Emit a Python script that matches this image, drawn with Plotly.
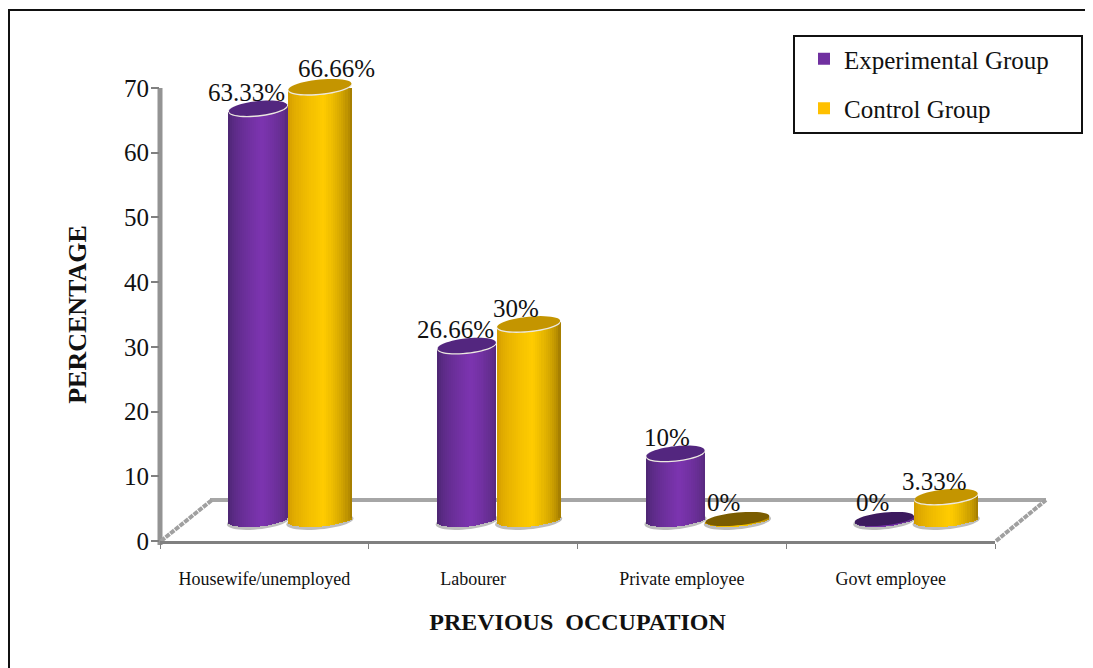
import math
import plotly.graph_objects as go

categories = ["Housewife/unemployed", "Labourer", "Private employee", "Govt employee"]
experimental = [63.33, 26.66, 10, 0]
control = [66.66, 30, 0, 3.33]
exp_labels = ["63.33%", "26.66%", "10%", "0%"]
ctrl_labels = ["66.66%", "30%", "0%", "3.33%"]
y_ticks = [0, 10, 20, 30, 40, 50, 60, 70]

FONT = "Liberation Serif"
OX, OY = 8, 8                               # the page's own margin
W, H = 1085, 660
PL, PR, PT, PB = 160, 995, 88, 541          # plot area in page pixels
UNIT = (PB - PT) / 70
CELL = (PR - PL) / 4
LIFT = 3.4                                  # floor depth raises the bars
CAP_PX = 7.5
TILT_PX = 3.0
CAP = CAP_PX / UNIT


def px(x):
    return (x - PL) / (PR - PL)


def py(y):
    return (PB - y) / (PB - PT)


def mix(a, b, t):
    return "rgb(%d,%d,%d)" % tuple(round(a[i] + (b[i] - a[i]) * t) for i in range(3))


def ellipse_path(i, off, w, level, dy_px=0.0, a_scale=1.0, b_scale=1.0):
    """Closed tilted ellipse in page pixels, placed from category slot and value level."""
    xc = PL + (i + 0.5 + off + w / 2) * CELL
    yc = PB - level * UNIT + dy_px
    a = w * CELL / 2 * a_scale
    pts = []
    for k in range(48):
        t = 2 * math.pi * k / 48
        u = math.cos(t)
        pts.append((xc + a * u, yc - TILT_PX * u - CAP_PX * b_scale * math.sin(t)))
    return "M " + " L ".join("%.5f %.5f" % (px(x), py(y)) for x, y in pts) + " Z"


series = [
    dict(name="Experimental Group", vals=experimental, labels=exp_labels, off=-0.172, w=0.283,
         color="#7030a0", edgeL=(70, 36, 106), edgeR=(82, 40, 118), mid=(124, 52, 176),
         cap="#53267f", flat="#3c1a5e", shifts=[(-12, -17), (-11, -17), (-9, -17), (-12, -16)]),
    dict(name="Control Group", vals=control, labels=ctrl_labels, off=0.113, w=0.306,
         color="#ffc000", edgeL=(205, 150, 0), edgeR=(150, 112, 0), mid=(255, 204, 0),
         cap="#c49500", flat="#7a5c00", shifts=[(17, -19), (-13, -16), (-14, -16), (-12, -16)]),
]

fig = go.Figure()
shapes = []
annotations = []

# frame (top and left only) and legend box
shapes.append(dict(type="path", xref="paper", yref="paper",
                   path="M %f %f L %f %f L %f %f" % (px(9), py(680), px(9), py(10), px(1100), py(10)),
                   line=dict(color="#111111", width=2), layer="below"))
shapes.append(dict(type="rect", xref="paper", yref="paper", x0=px(794), x1=px(1082), y0=py(133), y1=py(36),
                   line=dict(color="#111111", width=2), fillcolor="white", layer="below"))
# y axis wall edge
shapes.append(dict(type="line", xref="paper", yref="paper", x0=px(160), x1=px(160), y0=py(88), y1=py(545),
                   line=dict(color="#949494", width=5), layer="below"))
# floor
shapes.append(dict(type="line", xref="paper", yref="paper", x0=px(210), x1=px(1046), y0=py(500), y1=py(500),
                   line=dict(color="#a6a6a6", width=4), layer="below"))
for x0, x1 in ((161, 212), (996, 1046)):
    shapes.append(dict(type="line", xref="paper", yref="paper", x0=px(x0), x1=px(x1), y0=py(541), y1=py(500),
                       line=dict(color="#a0a0a0", width=4, dash="5px,1px"), layer="below"))

N = 30
PEAK = 0.56
for s in series:
    # the bar itself, read straight from the data (its shading is laid over it)
    fig.add_trace(go.Bar(x=categories, y=s["vals"], base=[LIFT] * 4, name=s["name"], legendgroup=s["name"],
                         width=[s["w"] * 0.5] * 4, offset=[s["off"] + s["w"] * 0.25] * 4, cliponaxis=False,
                         marker=dict(color=s["color"], line=dict(width=0))))
    # cylinder shading: slim overlapping strips following the tilted ellipses
    for k in range(N):
        left = k / N
        right = min(1.0, (k + 1.9) / N)
        p = (k + 0.5) / N
        u = 2 * p - 1
        slope_units = TILT_PX / UNIT * u
        drop = CAP * math.sqrt(max(0.0, 1 - u * u))
        if p < PEAK:
            col = mix(s["edgeL"], s["mid"], (p / PEAK) ** 0.55)
        else:
            col = mix(s["edgeR"], s["mid"], ((1 - p) / (1 - PEAK)) ** 0.55)
        fig.add_trace(go.Bar(x=categories, y=[v + drop for v in s["vals"]],
                             base=[LIFT + slope_units - drop] * 4, cliponaxis=False,
                             width=[s["w"] * (right - left)] * 4, offset=[s["off"] + s["w"] * left] * 4,
                             marker=dict(color=col, line=dict(width=0)), showlegend=False, hoverinfo="skip"))
    for i, v in enumerate(s["vals"]):
        c = LIFT + v
        shapes.append(dict(type="path", xref="paper", yref="paper", layer="below",
                           path=ellipse_path(i, s["off"], s["w"], LIFT, dy_px=2.5, a_scale=1.05, b_scale=1.05),
                           fillcolor="#bdbdbd", line=dict(width=0)))
        if v > 0:
            shapes.append(dict(type="path", xref="paper", yref="paper", layer="above",
                               path=ellipse_path(i, s["off"], s["w"], c),
                               fillcolor="#ece8e0", line=dict(width=0)))
            shapes.append(dict(type="path", xref="paper", yref="paper", layer="above",
                               path=ellipse_path(i, s["off"], s["w"], c, dy_px=-1.0, a_scale=0.985, b_scale=0.95),
                               fillcolor=s["cap"], line=dict(width=0)))
        else:
            shapes.append(dict(type="path", xref="paper", yref="paper", layer="above",
                               path=ellipse_path(i, s["off"], s["w"], c, b_scale=0.85),
                               fillcolor=s["flat"], line=dict(width=0)))
        dx, dy = s["shifts"][i]
        annotations.append(dict(x=(i + 0.5 + s["off"] + s["w"] / 2) / 4, y=c / 70, xref="paper", yref="paper",
                                xanchor="center", yanchor="middle",
                                text=s["labels"][i], showarrow=False, xshift=dx, yshift=-dy,
                                font=dict(family=FONT, size=25, color="#111111")))

fig.update_layout(
    width=W, height=H, autosize=False,
    margin=dict(l=PL - OX, r=W + OX - PR, t=PT - OY, b=H + OY - PB, pad=0),
    paper_bgcolor="white", plot_bgcolor="rgba(0,0,0,0)",
    barmode="overlay", bargap=0,
    font=dict(family=FONT, color="#111111"),
    shapes=shapes, annotations=annotations,
    legend=dict(x=px(804), y=py(36), xanchor="left", yanchor="top", bgcolor="rgba(0,0,0,0)",
                borderwidth=0, font=dict(family=FONT, size=25, color="#111111"), tracegroupgap=14,
                traceorder="grouped"),
    xaxis=dict(type="category", categoryorder="array", categoryarray=categories, range=[-0.5, 3.5],
               tickson="boundaries", ticks="outside", ticklen=5, tickwidth=1, tickcolor="#808080",
               showline=True, linecolor="#808080", linewidth=3, showgrid=False, zeroline=False,
               tickfont=dict(family=FONT, size=18, color="#111111"), ticklabelstandoff=19,
               title=dict(text="<b>PREVIOUS  OCCUPATION</b>", font=dict(family=FONT, size=24, color="#111111"), standoff=26)),
    yaxis=dict(range=[0, 70], tickmode="array", tickvals=y_ticks, ticks="outside", ticklen=8, tickwidth=2,
               tickcolor="#808080", showline=False, showgrid=False, zeroline=False,
               tickfont=dict(family=FONT, size=25, color="#111111"), ticklabelstandoff=-3,
               title=dict(text="<b>PERCENTAGE</b>", font=dict(family=FONT, size=26, color="#111111"), standoff=29)),
)

fig.write_html("out.html")
